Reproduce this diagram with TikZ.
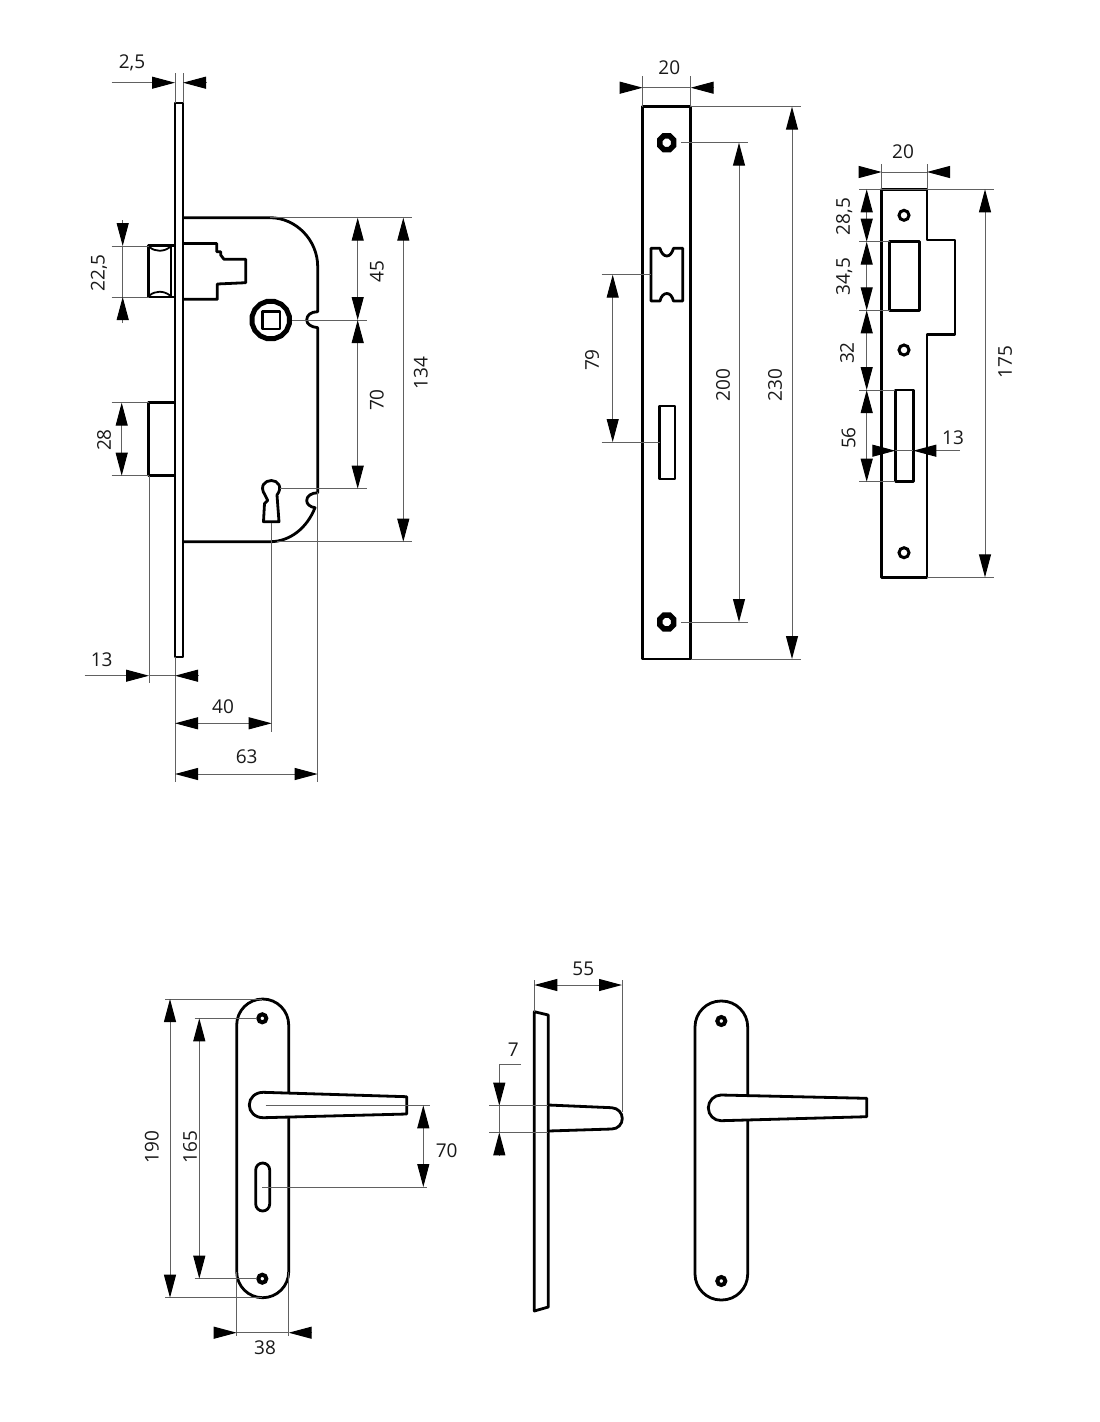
\documentclass[tikz,border=0pt]{standalone}
\usepackage{fontspec}
\setmainfont{Open Sans}
\usetikzlibrary{arrows.meta}
\usetikzlibrary{shapes.geometric}

\begin{document}
\begin{tikzpicture}[x=1pt,y=-1pt,>={Triangle[length=23pt,width=12pt,color=black]}]
	\tikzstyle{part}=[draw=black,line width=2.8pt,line join=round];
	\tikzstyle{cover}=[part,fill=white];
	\tikzstyle{dimline}=[draw=black!62,line width=1pt];
	\tikzstyle{dimlabel}=[font=\fontsize{19}{20}\selectfont,inner sep=0pt,text=black!90,text height=13.6pt,text depth=0pt];
	\tikzstyle{uplabel}=[dimlabel,rotate=90];
	\tikzstyle{screwhex}=[draw=black,line width=5.5pt,shape=regular polygon,regular polygon sides=8,minimum size=15pt,inner sep=0pt];
	\tikzstyle{screwring}=[draw=black,line width=4pt,shape=circle,minimum size=8pt,inner sep=0pt];
	\tikzstyle{strikehole}=[draw=black,line width=3pt,shape=circle,minimum size=10pt,inner sep=0pt];
	\useasboundingbox (0,0) rectangle (1100,1422);

	% lock case
	\draw[part] (175,103) rectangle (183,657);
	\draw[part] (183,217.7) -- (270,217.7) .. controls (296,217.7) and (317.7,240) .. (317.7,266.7)
	-- (317.7,311.7) .. controls (311,311.7) and (306.7,315) .. (306.7,320)
	.. controls (306.7,324) and (311,327) .. (317.7,327.7)
	-- (317.7,492.7) .. controls (311,493) and (306.7,496) .. (306.7,500.7)
	.. controls (306.7,504) and (310,507) .. (315,507.7)
	.. controls (307,528) and (290,541.7) .. (270,541.7) -- (183,541.7);
	\draw[part] (175,245.5) -- (148.5,245.5) -- (148.5,297) -- (175,297);
	\draw[part] (171,245.5) -- (171,297);
	\draw[part,line width=1.8pt] (149.5,247) .. controls (155,252) and (164,252) .. (170,247);
	\draw[part,line width=1.8pt] (149.5,295.5) .. controls (155,290.5) and (164,290.5) .. (170,295.5);
	\draw[part] (183,243.5) -- (216.7,243.5) -- (216.7,251.7) -- (220.7,251.7) -- (220.7,255) -- (224,259.3)
	-- (245.7,259.3) -- (245.7,282.7) -- (217.3,284) -- (217.3,299.3) -- (183,299.3);
	\draw[part] (175,402.7) -- (148.5,402.7) -- (148.5,475.7) -- (175,475.7);
	\path (270.7,320) node[draw=black,line width=5pt,shape=regular polygon,regular polygon sides=16,minimum size=38pt,inner sep=0pt] (follower) {};
	\draw[part] (262.5,311.5) rectangle (280,329);
	\draw[part] (265,495) .. controls (259,486) and (265,480.5) .. (271.4,480.5)
	.. controls (278,480.5) and (283,487) .. (277,495) -- (279,521.7) -- (263.5,521.7)
	-- (264.5,503.5) -- (267.7,500.5) -- cycle;

	% lock dimensions
	\draw[dimline] (175,73) -- (175,103) (183,73) -- (183,103);
	\draw[dimline,->] (111.7,82.7) -- (175,82.7);
	\draw[dimline,->] (206.7,82.7) -- (183,82.7);
	\path (132,62) node[dimlabel] (lockplate) {2,5};
	\draw[dimline] (111.7,246) -- (148.5,246) (111.7,297) -- (148.5,297);
	\draw[dimline,->] (122.7,220) -- (122.7,246);
	\draw[dimline,->] (122.7,323) -- (122.7,297);
	\draw[dimline] (122.7,246) -- (122.7,297);
	\path (97.7,273) node[uplabel] (latchheight) {22,5};
	\draw[dimline] (111.7,402.7) -- (148.5,402.7) (111.7,475.7) -- (148.5,475.7);
	\draw[dimline,<->] (121.7,402.7) -- (121.7,475.7);
	\path (104,440) node[uplabel] (boltheight) {28};
	\draw[dimline] (270,217.7) -- (411.7,217.7) (277,541.7) -- (411.7,541.7);
	\draw[dimline] (292,320) -- (366.7,320) (280,488.7) -- (366.7,488.7);
	\draw[dimline,<->] (357.7,217.7) -- (357.7,320);
	\draw[dimline,<->] (357.7,320) -- (357.7,488.7);
	\draw[dimline,<->] (403.3,217.7) -- (403.3,541.7);
	\path (376.7,271.7) node[uplabel] (topdist) {45};
	\path (376.7,400) node[uplabel] (axisdist) {70};
	\path (420.7,373) node[uplabel] (caseheight) {134};
	\draw[dimline] (149,475.7) -- (149,683) (175,657) -- (175,782);
	\draw[dimline] (271.7,523) -- (271.7,731.7) (317.7,492) -- (317.7,782);
	\draw[dimline,->] (84.7,675.7) -- (149,675.7);
	\draw[dimline,->] (198.7,675.7) -- (175,675.7);
	\draw[dimline] (149,675.7) -- (175,675.7);
	\path (101.7,660) node[dimlabel] (boltout) {13};
	\draw[dimline,<->] (175,723.3) -- (271.7,723.3);
	\path (223,706.7) node[dimlabel] (backset) {40};
	\draw[dimline,<->] (175,774) -- (317.7,774);
	\path (246.7,756.7) node[dimlabel] (casedepth) {63};

	% long strike
	\draw[part] (642.7,106.7) rectangle (690.7,659);
	\path (666.7,142.7) node[screwhex] (longtop) {};
	\path (666.7,622) node[screwhex] (longbottom) {};
	\draw[part] (651,248.3) -- (660,248.3) .. controls (661,253) and (664,256) .. (666.8,256)
	.. controls (670,256) and (672,253) .. (673.5,248.3) -- (682.7,248.3) -- (682.7,301) -- (673.5,301)
	.. controls (672,296) and (670,293.5) .. (666.8,293.5) .. controls (664,293.5) and (661,296) .. (660,301)
	-- (651,301) -- cycle;
	\draw[part] (659.5,406) rectangle (675,479);

	% long strike dimensions
	\draw[dimline] (642.7,76) -- (642.7,106.7) (690.7,76) -- (690.7,106.7);
	\draw[dimline,->] (622.7,87.7) -- (642.7,87.7);
	\draw[dimline,->] (713,87.7) -- (690.7,87.7);
	\draw[dimline] (642.7,87.7) -- (690.7,87.7);
	\path (669.3,67.3) node[dimlabel] (longwidth) {20};
	\draw[dimline] (690.7,106.7) -- (801,106.7) (690.7,659) -- (801,659);
	\draw[dimline,<->] (792,106.7) -- (792,659);
	\path (775,385) node[uplabel] (longheight) {230};
	\draw[dimline] (681,142.7) -- (748,142.7) (681,622) -- (748,622);
	\draw[dimline,<->] (739,142.7) -- (739,622);
	\path (723,385) node[uplabel] (longscrews) {200};
	\draw[dimline] (601.7,274.7) -- (651,274.7) (601.7,442) -- (659.5,442);
	\draw[dimline,<->] (612.7,274.7) -- (612.7,442);
	\path (592,360) node[uplabel] (longgap) {79};

	% short strike
	\draw[part] (881.7,189.3) -- (927,189.3) -- (927,240) -- (955,240) -- (955,334.3) -- (927,334.3)
	-- (927,577.3) -- (881.7,577.3) -- cycle;
	\path (904,215.3) node[strikehole] (shorttop) {};
	\path (904,350) node[strikehole] (shortmid) {};
	\path (904,552.7) node[strikehole] (shortbottom) {};
	\draw[part] (889.7,241.7) rectangle (919.3,310.3);
	\draw[part] (895.3,390) rectangle (913.3,481.7);

	% short strike dimensions
	\draw[dimline] (881.7,164) -- (881.7,189.3) (927,164) -- (927,189.3);
	\draw[dimline,->] (860.7,172) -- (881.7,172);
	\draw[dimline,->] (949.3,172) -- (927,172);
	\draw[dimline] (881.7,172) -- (927,172);
	\path (903,151.7) node[dimlabel] (shortwidth) {20};
	\draw[dimline] (859.3,189.3) -- (994.3,189.3) (927,577.3) -- (994.3,577.3);
	\draw[dimline] (859.3,241.7) -- (889.7,241.7) (859.3,310.3) -- (889.7,310.3);
	\draw[dimline] (859.3,390) -- (895.3,390) (859.3,481.7) -- (895.3,481.7);
	\draw[dimline,<->] (866.7,189.3) -- (866.7,241.7);
	\draw[dimline,<->] (866.7,241.7) -- (866.7,310.3);
	\draw[dimline,<->] (866.7,310.3) -- (866.7,390);
	\draw[dimline,<->] (866.7,390) -- (866.7,481.7);
	\path (843,216.7) node[uplabel] (stepa) {28,5};
	\path (843,276.7) node[uplabel] (stepb) {34,5};
	\path (847,353) node[uplabel] (stepc) {32};
	\path (848.5,438) node[uplabel] (stepd) {56};
	\draw[dimline,<->] (985,189.3) -- (985,577.3);
	\path (1005,362) node[uplabel] (shortheight) {175};
	\draw[dimline,->] (872.7,450.7) -- (895.3,450.7);
	\draw[dimline,->] (960,450.7) -- (913.3,450.7);
	\draw[dimline] (895.3,450.7) -- (913.3,450.7);
	\path (953,438) node[dimlabel] (slotwidth) {13};

	% handle, front
	\draw[part,rounded corners=26pt] (236.7,999) rectangle (288.7,1297.7);
	\draw[cover] (263.3,1092.3) .. controls (255,1092.3) and (249.3,1098) .. (249.3,1105)
	.. controls (249.3,1112) and (255,1117.7) .. (263.3,1117.7) -- (406.7,1114) -- (406.7,1096.7) -- cycle;
	\path (262.3,1018.3) node[screwring] (fronttop) {};
	\path (262.3,1278.7) node[screwring] (frontbottom) {};
	\draw[part,rounded corners=7pt] (255.7,1163) rectangle (269.7,1211);

	% handle dimensions
	\draw[dimline] (165,999) -- (262,999) (165,1297.7) -- (262,1297.7);
	\draw[dimline,<->] (170,999) -- (170,1297.7);
	\path (151.7,1146.7) node[uplabel] (plateheight) {190};
	\draw[dimline] (194.7,1018.3) -- (257,1018.3) (194.7,1278.7) -- (257,1278.7);
	\draw[dimline,<->] (199.3,1018.3) -- (199.3,1278.7);
	\path (190,1146.7) node[uplabel] (platescrews) {165};
	\draw[dimline] (265.7,1105.3) -- (430,1105.3) (262.3,1187) -- (426.7,1187);
	\draw[dimline,<->] (423.3,1105.3) -- (423.3,1187);
	\path (446.7,1150.7) node[dimlabel] (axisgap) {70};
	\draw[dimline] (236.7,1272) -- (236.7,1336) (288.7,1272) -- (288.7,1336);
	\draw[dimline,->] (215.7,1332.7) -- (236.7,1332.7);
	\draw[dimline,->] (311.7,1332.7) -- (288.7,1332.7);
	\draw[dimline] (236.7,1332.7) -- (288.7,1332.7);
	\path (265,1347.7) node[dimlabel] (platewidth) {38};

	% handle, side
	\draw[part] (534.3,1011.7) -- (548.3,1015) -- (548.3,1307) -- (534.3,1311) -- cycle;
	\draw[part] (548.3,1105) -- (611.7,1107.7) .. controls (618,1108) and (622.3,1113) .. (622.3,1118.5)
	.. controls (622.3,1124) and (618,1129) .. (611.7,1129) -- (548.3,1131);
	\draw[dimline] (534.3,980) -- (534.3,1011.7) (622,980) -- (622,1112);
	\draw[dimline,<->] (534.3,985) -- (622,985);
	\path (583.3,968.3) node[dimlabel] (handledepth) {55};
	\coordinate (leaderend) at (521,1064);
	\draw[dimline] (489.3,1105.7) -- (548.3,1105.7) (489.3,1132.3) -- (548.3,1132.3);
	\draw[dimline,->] (leaderend) -- (499.3,1064) -- (499.3,1105.7);
	\draw[dimline,->] (499.3,1155.7) -- (499.3,1132.3);
	\draw[dimline] (499.3,1105.7) -- (499.3,1132.3);
	\path (513.3,1049.3) node[dimlabel] (platethick) {7};

	% handle, back
	\draw[part,rounded corners=26pt] (695,1001) rectangle (747.7,1300);
	\draw[cover] (721,1095) .. controls (714,1095) and (708.3,1101) .. (708.3,1107.8)
	.. controls (708.3,1115) and (714,1120.7) .. (721,1120.7) -- (866.7,1116.7) -- (866.7,1098.3) -- cycle;
	\path (721.3,1021) node[screwring] (backtop) {};
	\path (721.3,1281) node[screwring] (backbottom) {};
\end{tikzpicture}
\end{document}
